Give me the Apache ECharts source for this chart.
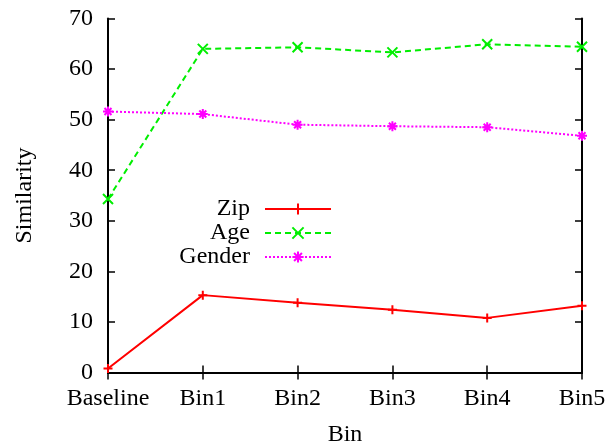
<!DOCTYPE html>
<html><head><meta charset="utf-8">
<script src="https://cdn.jsdelivr.net/npm/echarts@6/dist/echarts.min.js"></script>
<style>html,body{margin:0;padding:0;background:#fff}#c{width:616px;height:447px}</style>
</head><body><div id="c"></div>
<script>
const categories = ['Baseline','Bin1','Bin2','Bin3','Bin4','Bin5'];
const zip = [0.8, 15.3, 13.8, 12.4, 10.8, 13.2];
const age = [34.3, 64.0, 64.3, 63.3, 64.9, 64.4];
const gender = [51.6, 51.1, 49.0, 48.7, 48.5, 46.8];
const yTicks = [0, 70, 10];

const F = 'Liberation Serif, Times New Roman, serif';
const FS = 24;
const plus = 'path://M0,5L10,5M5,0L5,10';
const cross = 'path://M1,1L9,9M1,9L9,1';
const star = 'path://M0,5L10,5M5,0L5,10M1.5,1.5L8.5,8.5M1.5,8.5L8.5,1.5';

const chart = echarts.init(document.getElementById('c'), null, {renderer:'canvas'});
const axisLine = {show:true, lineStyle:{color:'#000', width:2}};
chart.setOption({
  animation:false,
  backgroundColor:'#fff',
  grid:{left:108, right:34, top:18.5, bottom:74.5, containLabel:false, outerBoundsMode:'none'},
  legend:{
    orient:'vertical', align:'right', left:163, top:192,
    itemWidth:66, itemHeight:14, itemGap:0,
    textStyle:{fontFamily:F, fontSize:FS, color:'#000', width:82, align:'right', lineHeight:24, padding:[0,10,0,0]},
    data:['Zip','Age','Gender']
  },
  xAxis:[{
    type:'category', data:categories, boundaryGap:false,
    name:'Bin', nameLocation:'middle', nameGap:50,
    nameTextStyle:{fontFamily:F, fontSize:FS, color:'#000'},
    axisLine:axisLine,
    axisTick:{show:true, inside:true, length:7, alignWithLabel:true, lineStyle:{color:'#000', width:1.5}},
    axisLabel:{fontFamily:F, fontSize:FS, color:'#000', margin:14, showMinLabel:true, showMaxLabel:true, interval:0},
    splitLine:{show:false}
  },{
    type:'category', data:categories, boundaryGap:false, position:'top',
    axisLine:axisLine,
    axisTick:{show:true, inside:true, length:7, lineStyle:{color:'#000', width:1.5}},
    axisLabel:{show:false}, splitLine:{show:false}
  }],
  yAxis:[{
    type:'value', min:yTicks[0], max:yTicks[1], interval:yTicks[2],
    name:'Similarity', nameLocation:'middle', nameGap:71, nameRotate:90,
    nameTextStyle:{fontFamily:F, fontSize:FS, color:'#000'},
    axisLine:axisLine,
    axisTick:{show:true, inside:true, length:7, lineStyle:{color:'#000', width:1.5}},
    axisLabel:{fontFamily:F, fontSize:FS, color:'#000', margin:15},
    splitLine:{show:false}
  },{
    type:'value', min:yTicks[0], max:yTicks[1], interval:yTicks[2], position:'right',
    axisLine:axisLine,
    axisTick:{show:true, inside:true, length:7, lineStyle:{color:'#000', width:1.5}},
    axisLabel:{show:false}, splitLine:{show:false}
  }],
  series:[
    {name:'Zip', type:'line', data:zip, symbol:plus, symbolSize:9, showAllSymbol:true,
     lineStyle:{color:'#ff0000', width:2, type:'solid'},
     itemStyle:{color:'#ff0000', borderColor:'#ff0000', borderWidth:2}},
    {name:'Age', type:'line', data:age, symbol:cross, symbolSize:10, showAllSymbol:true,
     lineStyle:{color:'#00ee00', width:2, type:[6,4]},
     itemStyle:{color:'#00ee00', borderColor:'#00ee00', borderWidth:2}},
    {name:'Gender', type:'line', data:gender, symbol:star, symbolSize:10, showAllSymbol:true,
     lineStyle:{color:'#ff00ff', width:2, type:[2,2]},
     itemStyle:{color:'#ff00ff', borderColor:'#ff00ff', borderWidth:2}}
  ]
});
</script></body></html>
